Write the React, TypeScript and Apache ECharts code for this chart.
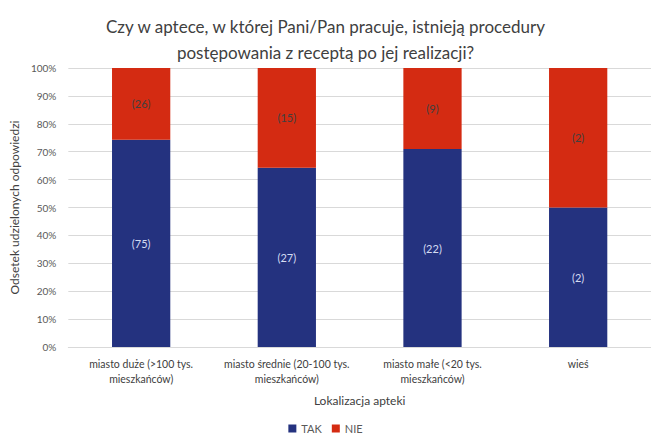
import React, { useEffect, useRef } from "react";
import * as echarts from "echarts";

const categories = [
  "miasto duże (>100 tys.\nmieszkańców)",
  "miasto średnie (20-100 tys.\nmieszkańców)",
  "miasto małe (<20 tys.\nmieszkańców)",
  "wieś",
];
const takCounts = [75, 27, 22, 2];
const nieCounts = [26, 15, 9, 2];
const yTicks = [0, 10, 20, 30, 40, 50, 60, 70, 80, 90, 100];

const FONT = "Lato, 'Open Sans', sans-serif";

export default function App() {
  const ref = useRef<HTMLDivElement>(null);

  useEffect(() => {
    if (!ref.current) return;
    const chart = echarts.init(ref.current, null, { renderer: "svg" });
    const totals = takCounts.map((t, i) => t + nieCounts[i]);
    const takPct = takCounts.map((t, i) => (t / totals[i]) * 100);
    const niePct = nieCounts.map((n, i) => (n / totals[i]) * 100);

    chart.setOption({
      animation: false,
      backgroundColor: "#ffffff",
      textStyle: { fontFamily: FONT },
      title: {
        text: "Czy w aptece, w której Pani/Pan pracuje, istnieją procedury\npostępowania z receptą po jej realizacji?",
        left: "center",
        top: 8,
        textStyle: {
          fontFamily: FONT,
          fontSize: 17,
          fontWeight: "normal",
          color: "#404040",
          lineHeight: 26,
        },
      },
      legend: {
        top: 418,
        left: "center",
        itemWidth: 8,
        itemHeight: 8,
        itemGap: 10,
        icon: "rect",
        textStyle: { fontFamily: FONT, fontSize: 11, color: "#595959" },
        data: ["TAK", "NIE"],
      },
      grid: { left: 68, right: -1, top: 68, bottom: 87 },
      xAxis: {
        type: "category",
        data: categories,
        name: "Lokalizacja apteki",
        nameLocation: "middle",
        nameGap: 47,
        nameTextStyle: { fontFamily: FONT, fontSize: 12, color: "#404040" },
        axisLine: { lineStyle: { color: "#d9d9d9" } },
        axisTick: { show: false },
        axisLabel: {
          fontFamily: FONT,
          fontSize: 10.5,
          color: "#404040",
          lineHeight: 15,
          margin: 9,
          interval: 0,
        },
      },
      yAxis: {
        type: "value",
        min: 0,
        max: 100,
        interval: 10,
        name: "Odsetek udzielonych odpowiedzi",
        nameLocation: "middle",
        nameGap: 47,
        nameTextStyle: { fontFamily: FONT, fontSize: 12, color: "#404040" },
        axisLabel: {
          fontFamily: FONT,
          fontSize: 10,
          color: "#595959",
          margin: 12,
          formatter: (v: number) => (yTicks.includes(v) ? `${v}%` : ""),
        },
        axisLine: { show: false },
        axisTick: { show: false },
        splitLine: { lineStyle: { color: "#d9d9d9" } },
      },
      series: [
        {
          name: "TAK",
          type: "bar",
          stack: "total",
          barWidth: "40%",
          data: takPct,
          itemStyle: { color: "#24327f" },
          label: {
            show: true,
            position: "inside",
            fontFamily: FONT,
            fontSize: 11,
            color: "#d4dcf2",
            formatter: (p: any) => `(${takCounts[p.dataIndex]})`,
          },
        },
        {
          name: "NIE",
          type: "bar",
          stack: "total",
          barWidth: "40%",
          data: niePct,
          itemStyle: { color: "#d42b12" },
          label: {
            show: true,
            position: "inside",
            fontFamily: FONT,
            fontSize: 11,
            color: "#404040",
            formatter: (p: any) => `(${nieCounts[p.dataIndex]})`,
          },
        },
      ],
    });

    return () => chart.dispose();
  }, []);

  return (
    <div
      ref={ref}
      style={{ position: "fixed", left: 0, top: 0, width: 651, height: 434 }}
    />
  );
}
